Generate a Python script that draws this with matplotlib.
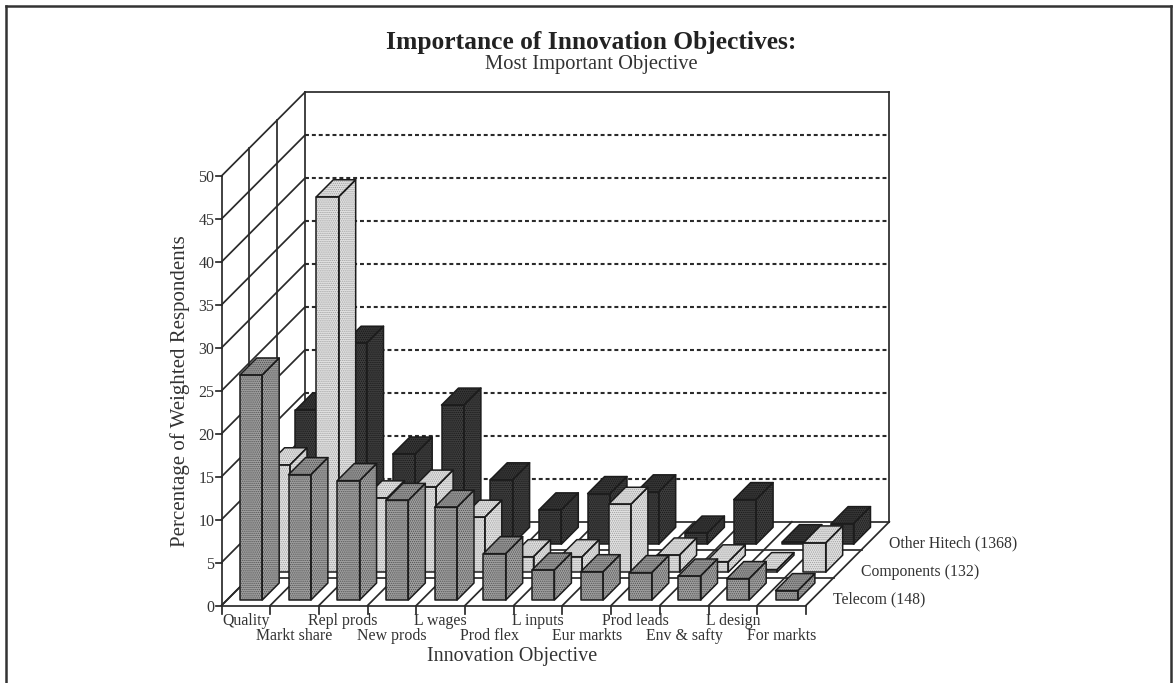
import matplotlib
matplotlib.use("Agg")
import matplotlib.pyplot as plt
from matplotlib.patches import Polygon

plt.rcParams['font.family'] = ['Liberation Serif', 'DejaVu Serif']
plt.rcParams['hatch.linewidth'] = 0.6

categories = ["Quality", "Markt share", "Repl prods", "New prods", "L wages", "Prod flex",
              "L inputs", "Eur markts", "Prod leads", "Env & safty", "L design", "For markts"]
series_names = ["Telecom (148)", "Components (132)", "Other Hitech (1368)"]
telecom = [26.2, 14.6, 13.9, 11.6, 10.8, 5.4, 3.5, 3.3, 3.2, 2.8, 2.5, 1.1]
components = [12.5, 43.7, 8.65, 9.9, 6.4, 1.8, 1.8, 7.9, 2.0, 1.2, 0.3, 3.4]
other_hitech = [15.6, 23.4, 10.5, 16.2, 7.5, 4.0, 5.9, 6.1, 1.3, 5.2, 0.3, 2.4]
y_ticks = [0, 5, 10, 15, 20, 25, 30, 35, 40, 45, 50]

title = "Importance of Innovation Objectives:"
subtitle = "Most Important Objective"
xlabel = "Innovation Objective"
ylabel = "Percentage of Weighted Respondents"

W, H = 1173, 683
X0, Y0 = 221.5, 605.5      # front-left floor corner (px)
CAT_W = 48.7               # width of a category
VAL_H = 8.59               # px per percentage point
ROW_DX, ROW_DY = 27.8, -27.9  # oblique offset of one series row
YMAX = 50
GAP = 0.265                # category margin
BAR_W = 0.46
D_GAP = 0.195              # row margin
D_LEN = 0.61
INK = "#2a2a2a"


def proj(c, v, d):
    """category position, value, depth (row units) -> canvas position."""
    return (X0 + c * CAT_W + d * ROW_DX, Y0 - v * VAL_H + d * ROW_DY)


fig = plt.figure(figsize=(W / 100, H / 100), dpi=100, facecolor="white")
ax = fig.add_axes([0, 0, 1, 1])
ax.set_xlim(0, W)
ax.set_ylim(H, 0)
ax.axis("off")

n, rows = len(categories), len(series_names)


def seg(a, b, lw=1.25, ls="-", z=1, color=INK):
    ax.plot([a[0], b[0]], [a[1], b[1]], color=color, lw=lw, ls=ls, zorder=z,
            solid_capstyle="projecting")


# outer frame
ax.plot([6, 6], [H, 6], color="#333333", lw=1.8)
ax.plot([6, 1171], [6, 6], color="#333333", lw=1.8)
ax.plot([1171, 1171], [6, H], color="#333333", lw=1.8)

# back wall
for v in y_ticks[1:-1]:
    seg(proj(0, v, rows), proj(n, v, rows), lw=1.5, ls=(0, (1.9, 1.4)))
seg(proj(0, 0, rows), proj(0, YMAX, rows))
seg(proj(0, YMAX, rows), proj(n, YMAX, rows))
seg(proj(n, YMAX, rows), proj(n, 0, rows))
seg(proj(0, 0, rows), proj(n, 0, rows))

# side wall
for v in y_ticks:
    seg(proj(0, v, 0), proj(0, v, rows))
    seg((proj(0, v, 0)[0] - 6, proj(0, v, 0)[1]), proj(0, v, 0))
    ax.text(proj(0, v, 0)[0] - 7, proj(0, v, 0)[1], str(v), ha="right", va="center_baseline",
            fontsize=11.5, color="#333333")
for d in range(rows):
    seg(proj(0, 0, d), proj(0, YMAX, d))

# floor
for i in range(n + 1):
    seg(proj(i, 0, 0), proj(i, 0, rows))
    a = proj(i, 0, 0)
    seg(a, (a[0], a[1] + 8))
for d in range(rows):
    seg(proj(0, 0, d), proj(n, 0, d))

styles = [
    {"front": "#a0a0a0", "side": "#a0a0a0", "top": "#969696", "dots": "#505050"},
    {"front": "#e2e2e2", "side": "#e2e2e2", "top": "#e0e0e0", "dots": "#9e9e9e"},
    {"front": "#3e3e3e", "side": "#3e3e3e", "top": "#363636", "dots": "#181818"},
]


def face(points, color, dots, z):
    ax.add_patch(Polygon(points, closed=True, facecolor=color, edgecolor=dots,
                         hatch="........", lw=0, zorder=z))
    ax.add_patch(Polygon(points, closed=True, fill=False, edgecolor="#1c1c1c", lw=1.1,
                         joinstyle="round", zorder=z + 0.1))


series_values = [telecom, components, other_hitech]
for r in range(rows - 1, -1, -1):
    st = styles[r]
    z = 10 + (rows - r) * 2
    for i, v in enumerate(series_values[r]):
        c0, c1 = i + GAP, i + GAP + BAR_W
        d0, d1 = r + D_GAP, r + D_GAP + D_LEN
        face([proj(c0, 0, d0), proj(c1, 0, d0), proj(c1, v, d0), proj(c0, v, d0)],
             st["front"], st["dots"], z)
        face([proj(c1, 0, d0), proj(c1, 0, d1), proj(c1, v, d1), proj(c1, v, d0)],
             st["side"], st["dots"], z)
        face([proj(c0, v, d0), proj(c1, v, d0), proj(c1, v, d1), proj(c0, v, d1)],
             st["top"], st["dots"], z)

# category labels, staggered
for i, name in enumerate(categories):
    x, y = proj(i + 0.5, 0, 0)
    ax.text(x, y + (15.5 if i % 2 == 0 else 31), name, ha="center", va="center",
            fontsize=11.4, color="#333333")

# series labels
for d, name in enumerate(series_names):
    x, y = proj(n, 0, d)
    ax.text(x + 27, y - 6, name, ha="left", va="center", fontsize=11.3, color="#333333")

ax.text(591, 42, title, ha="center", va="center", fontsize=18.4, fontweight="bold", color="#222222")
ax.text(591, 65, subtitle, ha="center", va="center", fontsize=14.8, color="#333333")
ax.text(427, 657, xlabel, ha="left", va="center", fontsize=14.5, color="#333333")
ax.text(180, 391, ylabel, ha="center", va="center", rotation=90, fontsize=15, color="#333333")

fig.savefig("out.png", dpi=100, facecolor="white")
